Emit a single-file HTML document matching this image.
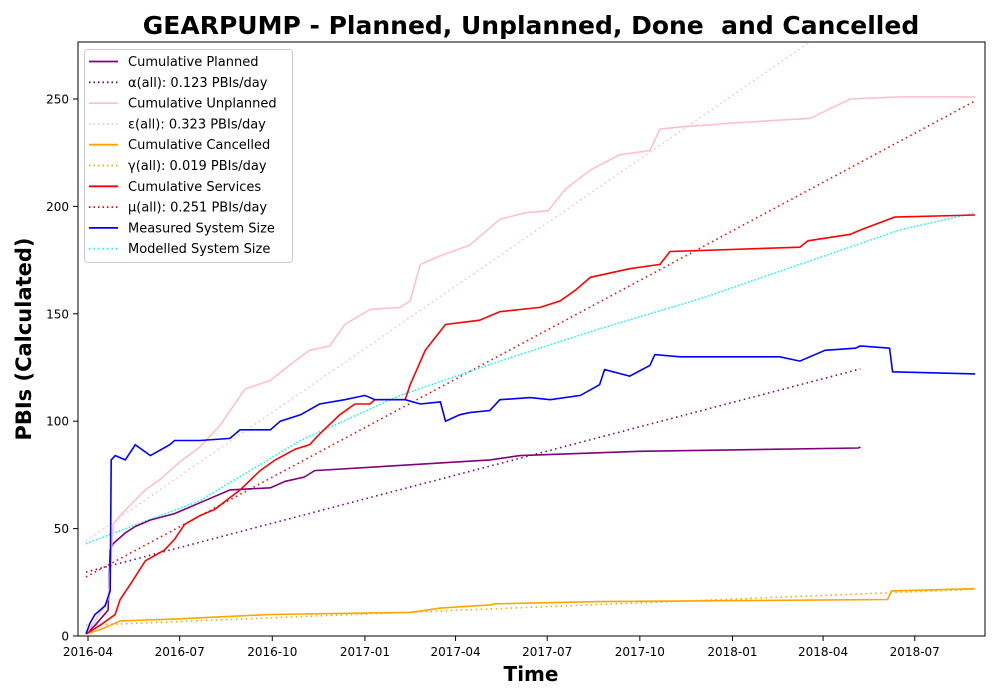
<!DOCTYPE html>
<html><head><meta charset="utf-8"><style>
html,body{margin:0;padding:0;background:#fff;}
svg{display:block;font-family:"DejaVu Sans","Liberation Sans",sans-serif;}
</style></head><body>
<svg id="chart" width="1000" height="700" viewBox="0 0 1000 700">
<text x="531" y="34" text-anchor="middle" font-size="25" font-weight="bold" xml:space="preserve">GEARPUMP - Planned, Unplanned, Done  and Cancelled</text>
<text transform="translate(31,339) rotate(-90)" text-anchor="middle" font-size="21" font-weight="bold">PBIs (Calculated)</text>
<text x="531" y="681" text-anchor="middle" font-size="20" font-weight="bold">Time</text>
<g id="plot"></g>
<rect x="78" y="42" width="907" height="594" fill="none" stroke="#000" stroke-width="1"/>
<g id="axes"></g>
<g id="legend"></g>
</svg>
<script>
// Data (day offsets from 2016-04-01, values in PBIs)
const xTickLabels = ["2016-04","2016-07","2016-10","2017-01","2017-04","2017-07","2017-10","2018-01","2018-04","2018-07"];
const xTickDays = [0,91,183,275,365,456,548,640,730,821];
const yTicks = [0,50,100,150,200,250];

const plannedDays = [-2,7,20,22,25,37,47,62,86,111,141,181,196,215,225,330,399,429,548,765,767];
const plannedVals = [1,5,12,40,43,48,51,54,57,62,68,69,72,74,77,80,82,84,86,87.5,88];

const unplannedDays = [-2,7,20,25,32,42,57,72,91,111,131,156,181,200,220,240,255,280,310,320,330,350,379,409,434,457,474,499,528,558,568,588,647,717,735,757,806,881];
const unplannedVals = [1,7,17,52,56,61,68,73,81,88,98,115,119,126,133,135,145,152,153,156,173,177,182,194,197,198,208,217,224,226,236,237,239,241,245,250,251,251];

const servicesDays = [-2,12,27,32,42,57,76,86,96,111,126,151,171,186,206,220,230,250,265,280,285,315,320,335,355,389,409,449,469,484,499,538,568,578,707,715,757,767,801,881];
const servicesVals = [1,5,10,17,24,35,40,45,52,56,59,68,77,82,87,89,94,103,108,108,110,110,117,133,145,147,151,153,156,161,167,171,173,179,181,184,187,189,195,196];

const cancelledDays = [-2,12,32,91,181,320,350,399,404,508,794,798,881];
const cancelledVals = [1,3,7,8,10,11,13,14.5,15,16,17,21,22];

const measuredDays = [-2,2,7,17,22,23,27,37,47,62,81,86,111,141,151,181,191,211,230,255,275,285,315,330,350,355,369,379,399,409,439,459,489,508,513,538,558,563,588,628,687,707,732,762,767,796,799,881];
const measuredVals = [1,6,10,14,21,82,84,82,89,84,89,91,91,92,96,96,100,103,108,110,112,110,110,108,109,100,103,104,105,110,111,110,112,117,124,121,126,131,130,130,130,128,133,134,135,134,123,122];

const modelledDays = [-2,111,211,310,409,508,608,707,806,881];
const modelledVals = [43,63,91,112,128,143,157,173,189,197];

const fitNames = ["alpha","epsilon","gamma","mu"];
const fitStartDay = [-2,-2,-2,-2];
const fitEndDay = [767,881,881,881];
const fitIntercept = [30,45,5,28];
const fitSlope = [0.123,0.323,0.019,0.251];

// Axis functions
function xs(d){return 88 + d*1.007;}
function ys(v){return 636 - v*2.148;}
const NS="http://www.w3.org/2000/svg";
const plot=document.getElementById('plot');
const axes=document.getElementById('axes');

const defs=document.createElementNS(NS,'defs');
defs.innerHTML='<clipPath id="clp"><rect x="78" y="42" width="907" height="594"/></clipPath>';
document.getElementById('chart').prepend(defs);
plot.setAttribute('clip-path','url(#clp)');

function poly(days,vals,color,dash,name,w){
  const p=document.createElementNS(NS,'polyline');
  p.setAttribute('points',days.map((d,i)=>xs(d).toFixed(1)+','+ys(vals[i]).toFixed(1)).join(' '));
  p.setAttribute('fill','none');p.setAttribute('stroke',color);p.setAttribute('stroke-width',w||1.6);
  if(dash)p.setAttribute('stroke-dasharray',dash);
  
  
  plot.appendChild(p);
}
const fitColors=["purple","pink","orange","red"];
fitNames.forEach((n,i)=>{
  const a=fitStartDay[i],b=fitEndDay[i];
  poly([a,b],[fitIntercept[i]+fitSlope[i]*a,fitIntercept[i]+fitSlope[i]*b],fitColors[i],"1.5,3.5",n+'-fit-line');
});
poly(modelledDays,modelledVals,"cyan","1.5,2",'modelled-system-size-line');
poly(plannedDays,plannedVals,"purple",null,'cumulative-planned-line');
poly(unplannedDays,unplannedVals,"pink",null,'cumulative-unplanned-line');
poly(cancelledDays,cancelledVals,"orange",null,'cumulative-cancelled-line');
poly(servicesDays,servicesVals,"red",null,'cumulative-services-line');
poly(measuredDays,measuredVals,"blue",null,'measured-system-size-line');

xTickDays.forEach((d,i)=>{
  const x=xs(d);
  const t=document.createElementNS(NS,'line');
  t.setAttribute('x1',x);t.setAttribute('x2',x);t.setAttribute('y1',636);t.setAttribute('y2',641);t.setAttribute('stroke','#000');
  
  
  axes.appendChild(t);
  const l=document.createElementNS(NS,'text');
  l.setAttribute('x',x);l.setAttribute('y',656);l.setAttribute('text-anchor','middle');l.setAttribute('font-size','12');
  l.textContent=xTickLabels[i];
  
  
  axes.appendChild(l);
});
yTicks.forEach(v=>{
  const y=ys(v);
  const t=document.createElementNS(NS,'line');
  t.setAttribute('x1',73);t.setAttribute('x2',78);t.setAttribute('y1',y);t.setAttribute('y2',y);t.setAttribute('stroke','#000');
  
  
  axes.appendChild(t);
  const l=document.createElementNS(NS,'text');
  l.setAttribute('x',69);l.setAttribute('y',y+4.5);l.setAttribute('text-anchor','end');l.setAttribute('font-size','12');
  l.textContent=v;
  
  
  axes.appendChild(l);
});

const legLabels=["Cumulative Planned","α(all): 0.123 PBIs/day","Cumulative Unplanned","ε(all): 0.323 PBIs/day","Cumulative Cancelled","γ(all): 0.019 PBIs/day","Cumulative Services","μ(all): 0.251 PBIs/day","Measured System Size","Modelled System Size"];
const legColors=["purple","purple","pink","pink","orange","orange","red","red","blue","cyan"];
const legDotted=[0,1,0,1,0,1,0,1,0,1];
const leg=document.getElementById('legend');
const box=document.createElementNS(NS,'rect');
box.setAttribute('x',84.5);box.setAttribute('y',49.5);box.setAttribute('width',208);box.setAttribute('height',213);box.setAttribute('rx',3);
box.setAttribute('fill','#fff');box.setAttribute('fill-opacity','0.8');box.setAttribute('stroke','#ccc');


leg.appendChild(box);
legLabels.forEach((s,i)=>{
  const y=61.5+i*20.8;
  const ln=document.createElementNS(NS,'line');
  ln.setAttribute('x1',89);ln.setAttribute('x2',118);ln.setAttribute('y1',y);ln.setAttribute('y2',y);
  ln.setAttribute('stroke',legColors[i]);ln.setAttribute('stroke-width',1.8);
  if(legDotted[i])ln.setAttribute('stroke-dasharray','1.5,3');
  
  
  leg.appendChild(ln);
  const t=document.createElementNS(NS,'text');
  t.setAttribute('x',128);t.setAttribute('y',y+4.5);t.setAttribute('font-size','13');
  t.textContent=s;
  
  
  leg.appendChild(t);
});
</script>
</body></html>
